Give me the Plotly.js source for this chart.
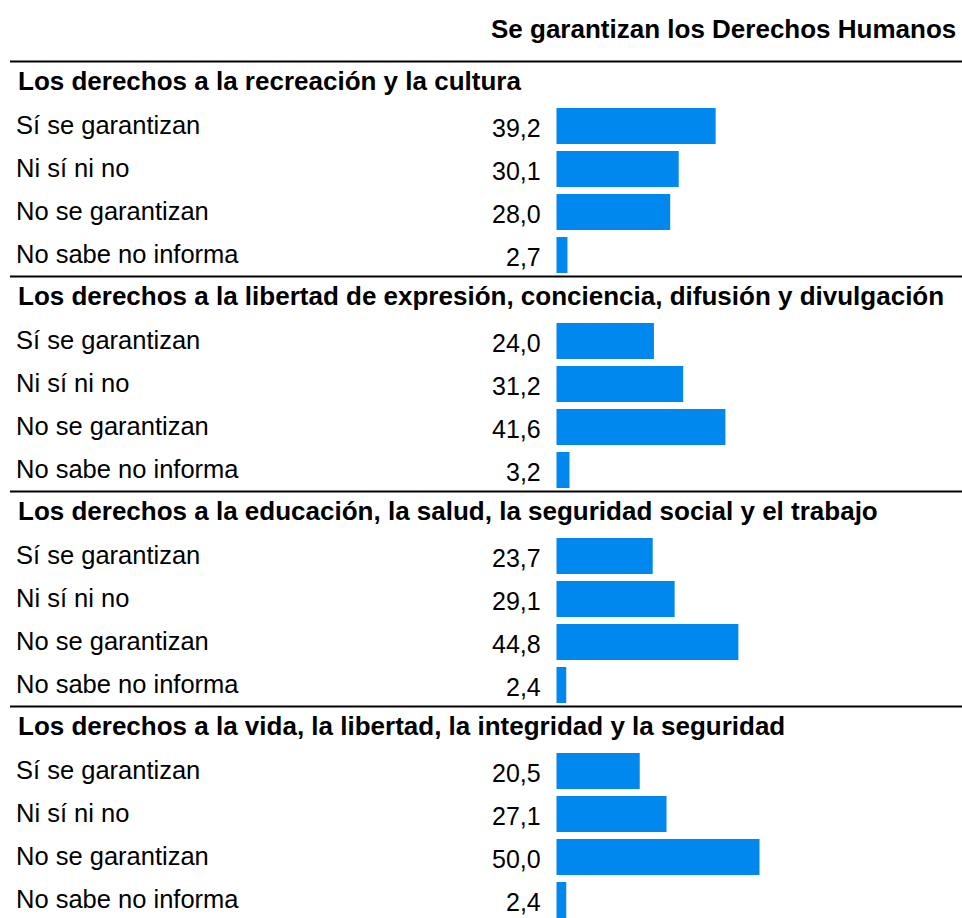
<!DOCTYPE html>
<html>
<head>
<meta charset="utf-8">
<script src="https://cdn.plot.ly/plotly-3.0.1.min.js"></script>
<style>html,body{margin:0;padding:0;background:#fff;}#chart{width:962px;height:918px;}</style>
</head>
<body>
<div id="chart"></div>
<script>
// ---- DATA ----
const chartTitle = "Se garantizan los Derechos Humanos";
const groups = [
  "Los derechos a la recreación y la cultura",
  "Los derechos a la libertad de expresión, conciencia, difusión y divulgación",
  "Los derechos a la educación, la salud, la seguridad social y el trabajo",
  "Los derechos a la vida, la libertad, la integridad y la seguridad"
];
const responses = ["Sí se garantizan", "Ni sí ni no", "No se garantizan", "No sabe no informa"];
const valuesRecreacion = [39.2, 30.1, 28.0, 2.7];
const valuesExpresion  = [24.0, 31.2, 41.6, 3.2];
const valuesEducacion  = [23.7, 29.1, 44.8, 2.4];
const valuesVida       = [20.5, 27.1, 50.0, 2.4];
const groupValues = [valuesRecreacion, valuesExpresion, valuesEducacion, valuesVida];

// ---- BUILD ----
const FONT = "Liberation Sans, Arial, sans-serif";
const barColor = "#0088ee";
const xs = [], ys = [];
const annotations = [];
const shapes = [];
groups.forEach((g, gi) => {
  const hy = gi * 5;
  annotations.push({
    xref: "paper", x: 16 / 962, xanchor: "left",
    yref: "y", y: hy, yanchor: "middle", yshift: 2,
    text: "<b>" + g + "</b>", showarrow: false,
    font: {family: FONT, size: 26, color: "#000"}
  });
  shapes.push({
    type: "line", xref: "paper", x0: 10 / 962, x1: 1,
    yref: "y", y0: hy - 0.5, y1: hy - 0.5,
    line: {color: "#000", width: 2}
  });
  groupValues[gi].forEach((v, ri) => {
    const y = hy + ri + 1;
    xs.push(v); ys.push(y);
    annotations.push({
      xref: "paper", x: 14 / 962, xanchor: "left",
      yref: "y", y: y, yanchor: "middle", yshift: 1,
      text: responses[ri], showarrow: false,
      font: {family: FONT, size: 25.5, color: "#000"}
    });
    annotations.push({
      xref: "x", x: 0, xanchor: "right", xshift: -14,
      yref: "y", y: y, yanchor: "middle", yshift: -2,
      text: v.toFixed(1).replace(".", ","), showarrow: false,
      font: {family: FONT, size: 25, color: "#000"}
    });
  });
});
annotations.push({
  xref: "paper", x: 958 / 962, xanchor: "right",
  yref: "y", y: (29 - 83) / 43, yanchor: "middle",
  text: "<b>" + chartTitle + "</b>", showarrow: false,
  font: {family: FONT, size: 26, color: "#000"}
});

const trace = {
  type: "bar", orientation: "h",
  x: xs, y: ys, width: 36 / 43,
  marker: {color: barColor, line: {width: 0}},
  hoverinfo: "skip"
};

const layout = {
  width: 962, height: 918,
  margin: {l: 0, r: 0, t: 0, b: 0},
  paper_bgcolor: "#fff", plot_bgcolor: "#fff",
  showlegend: false,
  xaxis: {range: [-556.5 / 4.06, (962 - 556.5) / 4.06], visible: false, fixedrange: true},
  yaxis: {range: [(918 - 83) / 43, -83 / 43], visible: false, fixedrange: true},
  annotations: annotations,
  shapes: shapes
};

Plotly.newPlot("chart", [trace], layout, {displayModeBar: false, staticPlot: true});
</script>
</body>
</html>
